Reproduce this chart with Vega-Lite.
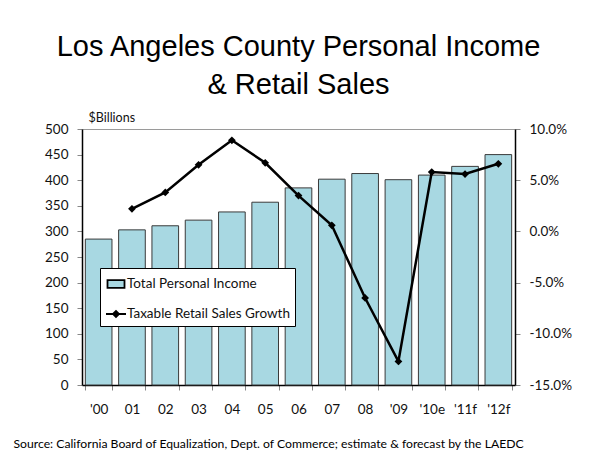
{
  "$schema": "https://vega.github.io/schema/vega-lite/v6.json",
  "width": 433,
  "height": 256,
  "autosize": "none",
  "padding": {"left": 82, "top": 129, "right": 82, "bottom": 67},
  "background": "white",
  "title": {
    "text": ["Los Angeles County Personal Income", "& Retail Sales"],
    "font": "Liberation Sans",
    "fontSize": 29,
    "fontWeight": "normal",
    "color": "black",
    "anchor": "middle",
    "offset": 11,
    "lineHeight": 38
  },
  "datasets": {
    "main": [
      {"year": "'00", "income": 285, "growth": null},
      {"year": "01", "income": 303, "growth": 0.022},
      {"year": "02", "income": 311, "growth": 0.038},
      {"year": "03", "income": 322, "growth": 0.065},
      {"year": "04", "income": 338, "growth": 0.089},
      {"year": "05", "income": 357, "growth": 0.067},
      {"year": "06", "income": 385, "growth": 0.035},
      {"year": "07", "income": 402, "growth": 0.006},
      {"year": "08", "income": 413, "growth": -0.065},
      {"year": "'09", "income": 401, "growth": -0.127},
      {"year": "'10e", "income": 410, "growth": 0.058},
      {"year": "'11f", "income": 427, "growth": 0.056},
      {"year": "'12f", "income": 450, "growth": 0.066}
    ],
    "series": [
      {"series": "Total Personal Income"},
      {"series": "Taxable Retail Sales Growth"}
    ]
  },
  "layer": [
    {
      "data": {"name": "main"},
      "mark": {"type": "bar", "fill": "#A8D8E2", "stroke": "#3a3a3a", "strokeWidth": 1},
      "encoding": {
        "x": {
          "field": "year",
          "type": "nominal",
          "sort": null,
          "scale": {"paddingInner": 0.2, "paddingOuter": 0.1},
          "axis": {
            "title": "Source: California Board of Equalization, Dept. of Commerce; estimate & forecast by the LAEDC",
            "titleFont": "Lato",
            "titleFontSize": 12.2,
            "titleFontWeight": "normal",
            "titleColor": "black",
            "titleAnchor": "start",
            "titleAlign": "left",
            "titleX": -69,
            "titleY": 62,
            "titleBaseline": "alphabetic",
            "titleLimit": 0,
            "labelAngle": 0,
            "labelFont": "Lato",
            "labelFontSize": 13.5,
            "labelColor": "#111",
            "labelPadding": 12,
            "tickBand": "extent",
            "tickSize": 5,
            "tickColor": "#888",
            "domainColor": "black",
            "domainWidth": 1.5
          }
        },
        "y": {
          "field": "income",
          "type": "quantitative",
          "scale": {"domain": [0, 500], "nice": false},
          "axis": {
            "title": "$Billions",
            "titleAngle": 0,
            "titleX": 6,
            "titleY": -12,
            "titleAlign": "left",
            "titleBaseline": "middle",
            "titleFont": "Lato",
            "titleFontSize": 12.5,
            "titleFontWeight": "normal",
            "titleColor": "#111",
            "values": [0, 50, 100, 150, 200, 250, 300, 350, 400, 450, 500],
            "grid": false,
            "tickSize": 5,
            "tickColor": "#888",
            "domainColor": "black",
            "domainWidth": 1.5,
            "labelFont": "Lato",
            "labelFontSize": 13.5,
            "labelColor": "#111",
            "labelPadding": 9
          }
        }
      }
    },
    {
      "data": {"name": "main"},
      "mark": {
        "type": "line",
        "color": "black",
        "strokeWidth": 2.5,
        "point": {"shape": "diamond", "size": 60, "filled": true, "color": "black"}
      },
      "encoding": {
        "x": {"field": "year", "type": "nominal", "sort": null},
        "y": {
          "field": "growth",
          "type": "quantitative",
          "scale": {"domain": [-0.15, 0.1], "nice": false},
          "axis": {
            "orient": "right",
            "title": null,
            "values": [-0.15, -0.1, -0.05, 0, 0.05, 0.1],
            "format": ".1%",
            "labelExpr": "replace(datum.label, '\u2212', '-')",
            "grid": false,
            "tickSize": 5,
            "tickColor": "#888",
            "domainColor": "black",
            "domainWidth": 1.5,
            "labelFont": "Lato",
            "labelFontSize": 13.5,
            "labelColor": "#111",
            "labelPadding": 9
          }
        }
      }
    },
    {
      "data": {"name": "series"},
      "mark": {"type": "point", "filled": true, "opacity": 0, "stroke": "black", "strokeWidth": 1.8},
      "encoding": {
        "color": {
          "field": "series",
          "type": "nominal",
          "scale": {
            "domain": ["Total Personal Income", "Taxable Retail Sales Growth"],
            "range": ["#A8D8E2", "black"]
          },
          "legend": {
            "orient": "none",
            "legendX": 18,
            "legendY": 139,
            "title": null,
            "fillColor": "white",
            "strokeColor": "black",
            "padding": 5,
            "rowPadding": 11,
            "symbolSize": 400,
            "symbolOpacity": 1,
            "symbolStrokeWidth": 1.8,
            "labelFont": "Lato",
            "labelFontSize": 13.5,
            "labelOffset": 0,
            "labelLimit": 0,
            "labelColor": "#111"
          }
        },
        "shape": {
          "field": "series",
          "type": "nominal",
          "scale": {
            "domain": ["Total Personal Income", "Taxable Retail Sales Growth"],
            "range": ["M-0.85,-0.38H0.85V0.38H-0.85Z", "M-1,0H1M-0.3,0L0,-0.3L0.3,0L0,0.3Z"]
          },
          "legend": {
            "orient": "none",
            "legendX": 18,
            "legendY": 139,
            "title": null,
            "fillColor": "white",
            "strokeColor": "black",
            "padding": 5,
            "rowPadding": 11,
            "symbolSize": 400,
            "symbolOpacity": 1,
            "symbolStrokeWidth": 1.8,
            "labelFont": "Lato",
            "labelFontSize": 13.5,
            "labelOffset": 0,
            "labelLimit": 0,
            "labelColor": "#111"
          }
        }
      }
    }
  ],
  "resolve": {"scale": {"y": "independent"}},
  "config": {"view": {"stroke": "#9a9a9a"}}
}
